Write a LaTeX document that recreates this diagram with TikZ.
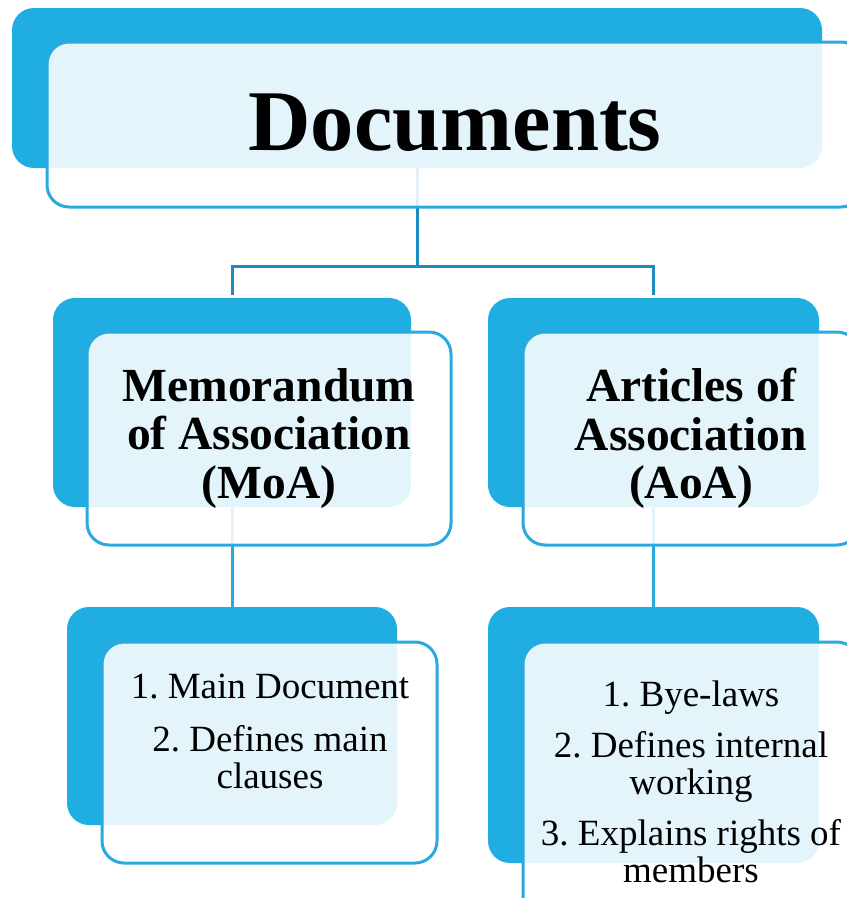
\documentclass[tikz,border=0pt]{standalone}
\usepackage{fontspec}
\setmainfont{Liberation Serif}
\usetikzlibrary{backgrounds}
\definecolor{boxblue}{HTML}{1FADE2}
\definecolor{edgeblue}{HTML}{29A9DF}
\definecolor{linkblue}{HTML}{1A8CBF}
\frenchspacing
\tikzset{
  backbox/.style={fill=boxblue, rounded corners=22pt, inner sep=0pt},
  frontbox/.style={draw=edgeblue, line width=3pt, fill=white, fill opacity=0.88,
    rounded corners=22pt, inner sep=0pt},
  toplink/.style={draw=linkblue, line width=3pt},
  sublink/.style={draw=edgeblue, line width=3pt},
  headtext/.style={font=\bfseries\fontsize{86.5}{94}\selectfont},
  midtext/.style={font=\bfseries\fontsize{47.5}{48.5}\selectfont, align=center},
  listtext/.style={font=\fontsize{37}{37}\selectfont, align=center},
}

\begin{document}
\begin{tikzpicture}[x=1pt, y=-1pt]
  \clip (0,0) rectangle (847,898);
  % back boxes
  \node[backbox, minimum width=810pt, minimum height=160pt] (DocsB) at (417,88) {};
  \node[backbox, minimum width=358pt, minimum height=209pt] (MoaB)  at (232,402.5) {};
  \node[backbox, minimum width=331pt, minimum height=209pt] (AoaB)  at (653.5,402.5) {};
  \node[backbox, minimum width=330pt, minimum height=218pt] (MoaLB) at (232,716) {};
  \node[backbox, minimum width=331pt, minimum height=256pt] (AoaLB) at (653.5,735) {};
  % front boxes
  \node[frontbox, minimum width=816pt, minimum height=165pt] (DocsF) at (455,124.5) {};
  \node[frontbox, minimum width=364pt, minimum height=213pt] (MoaF)  at (269,438.5) {};
  \node[frontbox, minimum width=336pt, minimum height=213pt] (AoaF)  at (691,438.5) {};
  \node[frontbox, minimum width=335pt, minimum height=221pt] (MoaLF) at (269.5,752.5) {};
  \node[frontbox, minimum width=336pt, minimum height=286pt] (AoaLF) at (691,785) {};
  % texts
  \node[headtext] (Docs) at ([yshift=2pt]DocsF.center) {Documents};
  \node[midtext] (Moa) at (MoaF.center) {Memorandum\\of Association\\(MoA)};
  \node[midtext] (Aoa) at (AoaF.center) {Articles of\\Association\\(AoA)};
  \node[listtext] (MoaL) at (270,731) {1. Main Document\\[16pt]2. Defines main\\clauses};
  \node[listtext] (AoaL) at (691,782) {1. Bye-laws\\[14pt]2. Defines internal\\working\\[14pt]3. Explains rights of\\members};
  % connectors
  \begin{scope}[on background layer]
    \coordinate (Split) at (417,266);
    \draw[toplink] (DocsB.center) -- (Split);
    \draw[toplink] (Split) -| ([yshift=3pt]MoaB.north);
    \draw[toplink] (Split) -| ([yshift=3pt]AoaB.north);
    \draw[sublink] (MoaB.center) -- (MoaLB.north);
    \draw[sublink] (AoaB.center) -- (AoaLB.north);
  \end{scope}
\end{tikzpicture}
\end{document}
